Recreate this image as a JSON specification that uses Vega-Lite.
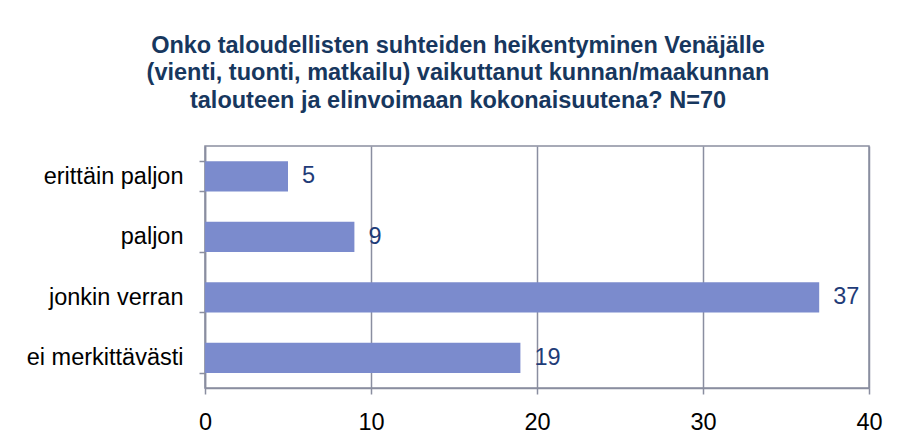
{
  "$schema": "https://vega.github.io/schema/vega-lite/v6.json",
  "autosize": "none",
  "width": 664,
  "height": 242,
  "padding": {"left": 205, "top": 146, "right": 31, "bottom": 57},
  "background": "white",
  "title": {
    "text": ["Onko taloudellisten suhteiden heikentyminen Venäjälle", "(vienti, tuonti, matkailu) vaikuttanut kunnan/maakunnan", "talouteen ja elinvoimaan kokonaisuutena? N=70"],
    "font": "Liberation Sans",
    "fontSize": 23.5,
    "fontWeight": "bold",
    "color": "#17375E",
    "lineHeight": 27.5,
    "anchor": "middle",
    "frame": "group",
    "dx": -79,
    "offset": 22
  },
  "data": {
    "values": [
      {"vastaus": "erittäin paljon", "n": 5},
      {"vastaus": "paljon", "n": 9},
      {"vastaus": "jonkin verran", "n": 37},
      {"vastaus": "ei merkittävästi", "n": 19}
    ]
  },
  "config": {
    "view": {"stroke": "#8A8EA0", "strokeWidth": 1.5},
    "font": "Liberation Sans"
  },
  "encoding": {
    "y": {
      "field": "vastaus",
      "type": "nominal",
      "sort": null,
      "title": null,
      "scale": {"paddingInner": 0.5, "paddingOuter": 0.25},
      "axis": {
        "domainColor": "#8A8EA0",
        "domainWidth": 1.5,
        "tickColor": "#8A8EA0",
        "tickWidth": 1.5,
        "tickSize": 6,
        "tickBand": "extent",
        "labelFont": "Liberation Sans",
        "labelFontSize": 23.5,
        "labelColor": "#000000",
        "labelPadding": 16,
        "grid": false
      }
    },
    "x": {
      "field": "n",
      "type": "quantitative",
      "title": null,
      "scale": {"domain": [0, 40], "nice": false},
      "axis": {
        "values": [0, 10, 20, 30, 40],
        "domainColor": "#8A8EA0",
        "domainWidth": 1.5,
        "tickColor": "#8A8EA0",
        "tickWidth": 1.5,
        "tickSize": 6,
        "grid": true,
        "gridColor": "#8A8EA0",
        "gridWidth": 1.5,
        "labelFont": "Liberation Sans",
        "labelFontSize": 23.5,
        "labelColor": "#000000",
        "labelPadding": 16,
        "labelFlush": false
      }
    }
  },
  "layer": [
    {"mark": {"type": "bar", "color": "#7B8BCD"}},
    {
      "mark": {"type": "text", "align": "left", "baseline": "middle", "dx": 14, "fontSize": 23.5, "color": "#1F3C78", "font": "Liberation Sans"},
      "encoding": {"text": {"field": "n", "type": "quantitative"}}
    }
  ]
}
